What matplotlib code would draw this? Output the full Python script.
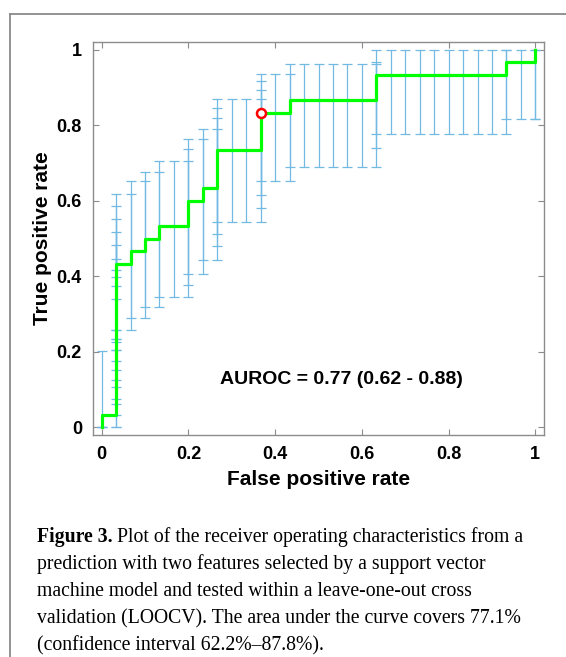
import numpy as np
import matplotlib
matplotlib.use("Agg")
import matplotlib.pyplot as plt
from matplotlib.lines import Line2D

# ROC points (counts out of 30 negatives / 30 positives)
n_neg = 30
n_pos = 30
fp = [0, 0,
      1, 1, 1, 1, 1, 1, 1, 1, 1, 1, 1, 1, 1,
      2, 2, 3, 3, 4, 4, 5, 6, 6, 6, 7, 7,
      8, 8, 8, 8, 9, 10, 11, 11, 11, 11, 12, 13, 13,
      14, 15, 16, 17, 18, 19, 19, 19,
      20, 21, 22, 23, 24, 25, 26, 27, 28, 28, 29, 30, 30]
tp = [0, 1,
      1, 2, 3, 4, 5, 6, 7, 8, 9, 10, 11, 12, 13,
      13, 14, 14, 15, 15, 16, 16, 16, 17, 18, 18, 19,
      19, 20, 21, 22, 22, 22, 22, 23, 24, 25, 25, 25, 26,
      26, 26, 26, 26, 26, 26, 27, 28,
      28, 28, 28, 28, 28, 28, 28, 28, 28, 29, 29, 29, 30]

# confidence bounds of the true positive rate at each point
tpr_lo = [0.0, 0.0,
          0.0, 0.002, 0.032, 0.062, 0.075, 0.107, 0.126, 0.153, 0.177, 0.205, 0.227, 0.233, 0.258,
          0.258, 0.289, 0.289, 0.318, 0.318, 0.346, 0.346, 0.346, 0.378, 0.407, 0.407, 0.442,
          0.442, 0.479, 0.512, 0.543, 0.543, 0.543, 0.543, 0.582, 0.616, 0.653, 0.653, 0.653, 0.689,
          0.689, 0.689, 0.689, 0.689, 0.689, 0.689, 0.739, 0.776,
          0.776, 0.776, 0.776, 0.776, 0.776, 0.776, 0.776, 0.776, 0.776, 0.815, 0.815, 0.815, 0.815]
tpr_hi = [0.0, 0.203,
          0.205, 0.233, 0.258, 0.341, 0.374, 0.398, 0.416, 0.447, 0.482, 0.517, 0.552, 0.587, 0.618,
          0.618, 0.651, 0.651, 0.676, 0.676, 0.705, 0.705, 0.705, 0.736, 0.762, 0.762, 0.789,
          0.789, 0.819, 0.846, 0.868, 0.868, 0.868, 0.868, 0.894, 0.918, 0.935, 0.935, 0.935, 0.963,
          0.963, 0.963, 0.963, 0.963, 0.963, 0.963, 0.967, 1.0,
          1.0, 1.0, 1.0, 1.0, 1.0, 1.0, 1.0, 1.0, 1.0, 1.0, 1.0, 1.0, 1.0]

opt_fp, opt_tp = 11, 25
auroc_text = "AUROC = 0.77 (0.62 - 0.88)"

caption_lines = [
    "Plot of the receiver operating characteristics from a",
    "prediction with two features selected by a support vector",
    "machine model and tested within a leave-one-out cross",
    "validation (LOOCV). The area under the curve covers 77.1%",
    "(confidence interval 62.2%\u201387.8%).",
]

fpr = np.array(fp) / n_neg
tpr = np.array(tp) / n_pos
lo = np.array(tpr_lo)
hi = np.array(tpr_hi)

plt.rcParams["font.family"] = ["Liberation Sans", "DejaVu Sans"]

fig = plt.figure(figsize=(5.66, 6.57), dpi=100)
ax = fig.add_axes([93 / 566, 1 - 435 / 657, 451 / 566, 393 / 657])

ax.errorbar(fpr, tpr, yerr=[tpr - lo, hi - tpr], fmt="none", ecolor="#72b9e4",
            elinewidth=0.9, capsize=3.6, capthick=0.9, zorder=2)
ax.plot(fpr, tpr, color="#00ff00", lw=2.3, zorder=3)
ax.plot(opt_fp / n_neg, opt_tp / n_pos, "o", ms=6.5, mfc="white", mec="red", mew=1.8, zorder=4)

ax.text(0.272, 0.127, auroc_text, fontsize=14, fontweight="bold", va="center", ha="left")

ax.set_xlim(-0.02, 1.02)
ax.set_ylim(-0.02, 1.02)
ticks = [0, 0.2, 0.4, 0.6, 0.8, 1]
labels = ["0", "0.2", "0.4", "0.6", "0.8", "1"]
ax.set_xticks(ticks)
ax.set_xticklabels(labels)
ax.set_yticks(ticks)
ax.set_yticklabels(labels)
ax.tick_params(direction="in", length=4, width=0.8, color="#8c8c8c", top=True, right=True,
               labelsize=13, pad=8)
for lab in ax.get_xticklabels() + ax.get_yticklabels():
    lab.set_fontweight("bold")
for sp in ax.spines.values():
    sp.set_color("#8c8c8c")
    sp.set_linewidth(1.0)

ax.set_xlabel("False positive rate", fontsize=15, fontweight="bold")
ax.set_ylabel("True positive rate", fontsize=15, fontweight="bold")
ax.xaxis.set_label_coords(0.5, -0.088)
ax.yaxis.set_label_coords(-0.09, 0.5)

# page frame
fig.add_artist(Line2D([10 / 566, 10 / 566], [0, 1 - 14 / 657], transform=fig.transFigure,
                      color="#8a8a8a", lw=1.3))
fig.add_artist(Line2D([10 / 566, 1], [1 - 14 / 657, 1 - 14 / 657], transform=fig.transFigure,
                      color="#8a8a8a", lw=1.3))

# caption
serif = ["Liberation Serif", "DejaVu Serif"]
cap_size = 14.2
x0 = 37 / 566
line_y = [542, 569, 596, 623, 650]
renderer = fig.canvas.get_renderer()
head = fig.text(x0, 1 - line_y[0] / 657, "Figure 3.", family=serif, fontsize=cap_size,
                fontweight="bold", va="baseline")
bb = head.get_window_extent(renderer=renderer)
fig.text(bb.x1 / fig.bbox.width + 4 / 566, 1 - line_y[0] / 657, caption_lines[0],
         family=serif, fontsize=cap_size, va="baseline")
for txt, yy in zip(caption_lines[1:], line_y[1:]):
    fig.text(x0, 1 - yy / 657, txt, family=serif, fontsize=cap_size, va="baseline")

fig.savefig("out.png", dpi=100)
